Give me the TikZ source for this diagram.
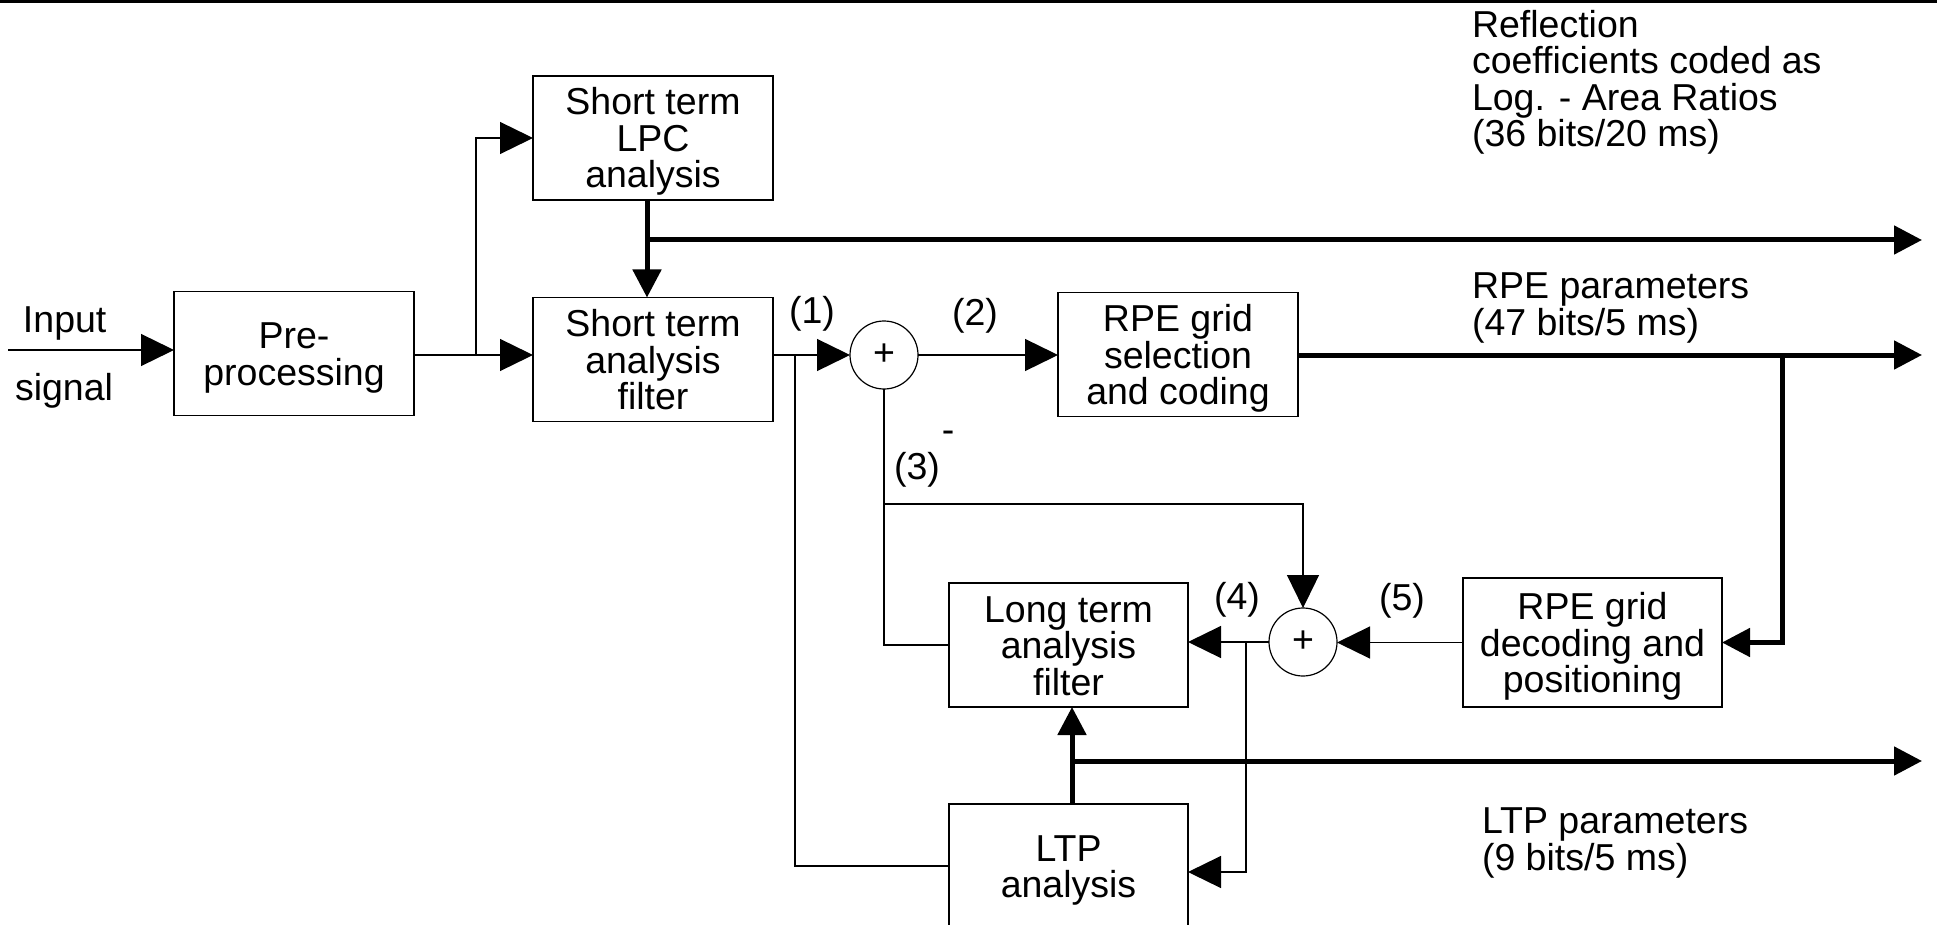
\documentclass[tikz,border=0pt]{standalone}
\usepackage{fontspec}
\setmainfont{Liberation Sans}
\usetikzlibrary{arrows.meta}
\newcommand\topst{\rule{0pt}{35pt}}
\newcommand\botst{\rule[-8pt]{0pt}{8pt}}
\begin{document}
\begin{tikzpicture}[x=1pt,y=-1pt,
  every node/.style={font=\fontsize{37.5}{36.5}\selectfont, inner sep=0pt, outer sep=0pt},
  blk/.style={draw, line width=1.2pt, minimum width=240pt, minimum height=124pt, align=center},
  sumnode/.style={draw, circle, line width=1.2pt, minimum size=68pt},
  thinline/.style={line width=1.3pt},
  thinarr/.style={thinline, -{Triangle[length=33pt,width=32pt]}},
  bus/.style={line width=5pt},
  busarr/.style={bus, -{Triangle[length=28pt,width=28pt]}},
  lbl/.style={anchor=north west, align=left}
]
\useasboundingbox (0,0) rectangle (1937,925);
\clip (0,0) rectangle (1937,925);
\fill (0,0) rectangle (1937,2.8);

% blocks
\node[blk] (pre) at (294,353.5) {\topst Pre-\\processing\botst};
\node[blk] (lpc) at (653,138) {\topst Short term\\LPC\\analysis\botst};
\node[blk] (stf) at (653,359.5) {\topst Short term\\analysis\\filter\botst};
\node[blk] (rsel) at (1178,354.5) {\topst RPE grid\\selection\\and coding\botst};
\node[blk, minimum width=259pt, minimum height=129pt] (rdec) at (1592.5,642.5) {\topst RPE grid\\decoding and\\positioning\botst};
\node[blk, minimum width=239pt] (ltf) at (1068.5,645) {\topst Long term\\analysis\\filter\botst};
\node[blk, minimum width=239pt] (ltp) at (1068.5,866) {\topst LTP\\analysis\botst};
\node[sumnode] (s1) at (884,355) {+};
\node[sumnode] (s2) at (1303,642) {+};

% input
\coordinate (in) at (8,350);
\draw[thinarr] (in) -- (pre.west |- in);
\node[anchor=base west] (tin) at (23,332) {Input};
\node[anchor=base west] (tsig) at (15,400) {signal};

% pre-processing to LPC and filter
\coordinate (j1) at (476,355);
\draw[thinline] (pre.east |- j1) -- (j1);
\draw[thinarr] (j1) |- (lpc.west);
\draw[thinarr] (j1) -- (stf.west |- j1);

% LPC output bus
\coordinate (j2) at (647,240);
\coordinate (o1) at (1922,240);
\draw[busarr] (lpc.south -| j2) -- (stf.north -| j2);
\draw[busarr] (j2) -- (o1);

% filter to sum 1
\coordinate (j3) at (795,355);
\draw[thinarr] (stf.east |- s1) -- (s1.west);
\draw[thinline] (j3) |- (ltp.west);

% sum 1 to RPE selection
\draw[thinarr] (s1.east) -- (rsel.west |- s1);
\coordinate (o2) at (1922,355);
\coordinate (j4) at (1782,355);
\draw[busarr] (rsel.east |- s1) -- (o2);
\draw[busarr] (j4) |- (rdec.east);

% sum 1 down
\coordinate (j5) at (884,504);
\draw[thinline] (s1.south) |- (ltf.west);
\draw[thinarr] (j5) -| (s2.north);

% RPE decoding to sum 2 to LT filter
\draw[thinarr] (rdec.west) -- (s2.east |- rdec.west);
\draw[thinarr] (s2.west) -- (ltf.east |- s2.west);
\coordinate (j6) at (1246,642);
\draw[thinarr] (j6) |- ([yshift=-6pt]ltp.east);

% LTP bus
\coordinate (j7) at (1072,761);
\coordinate (o3) at (1922,761);
\draw[busarr] (ltp.north -| j7) -- (ltf.south -| j7);
\draw[busarr] (j7) -- (o3);

% labels
\node (l1) at (812,314) {(1)};
\node (l2) at (975,316) {(2)};
\node (l3) at (917,470) {(3)};
\node[anchor=base] (lm) at (948,442) {-};
\node (l4) at (1237,600) {(4)};
\node (l5) at (1402,601) {(5)};

\node[lbl] (refl) at (1472,10) {Reflection\\coefficients coded as\\Log. - Area Ratios\\(36 bits/20 ms)};
\node[lbl] (rpep) at (1472,273) {RPE parameters\\(47 bits/5 ms)};
\node[lbl] (ltpp) at (1482,808) {LTP parameters\\(9 bits/5 ms)};
\end{tikzpicture}
\end{document}
